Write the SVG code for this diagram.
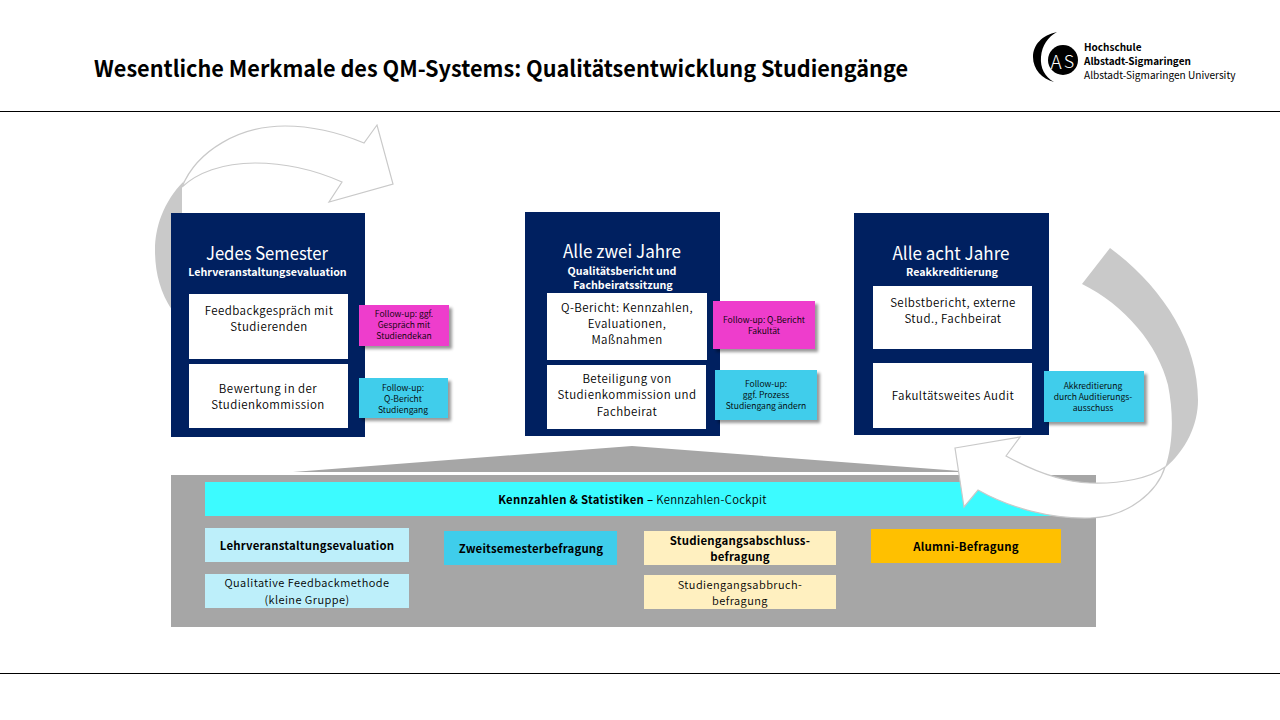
<svg xmlns="http://www.w3.org/2000/svg" width="1280" height="720" viewBox="0 0 1280 720">
<style>
text{font-family:"Noto Sans CJK SC","Source Sans Pro","Noto Sans",sans-serif;text-anchor:middle;fill:#000}
.title{font-size:22.5px;font-weight:700;text-anchor:start}
.h{font-size:18px;fill:#fff;font-weight:400}
.sub{font-size:10.700px;font-weight:700;fill:#fff}
.b{font-size:11.500px;letter-spacing:.45px;font-weight:350}
.s{font-size:11px;letter-spacing:.45px;font-weight:350}
.n{font-size:8.600px;font-weight:350}
.bb{font-size:11.400px;font-weight:700;letter-spacing:.2px}
.navy{fill:#002060}
.w{fill:#fff}
.note{filter:url(#sh)}
.arrow{fill:#fff;stroke:#c9c9c9;stroke-width:1.2}
.cres{fill:#c9c9c9}
.logo{font-size:10px;text-anchor:start}
line{stroke:#000;stroke-width:1}
</style>
<defs>
<filter id="sh" x="-15%" y="-15%" width="135%" height="140%"><feDropShadow dx="3" dy="3" stdDeviation="1.6" flood-color="#000" flood-opacity=".4"/></filter>
</defs>
<rect width="1280" height="720" fill="#fff"/>
<line x1="0" y1="111.500" x2="1280" y2="111.500"/>
<line x1="0" y1="673.500" x2="1280" y2="673.500"/>
<text class="title" x="94" y="76.500" textLength="814" lengthAdjust="spacingAndGlyphs">Wesentliche Merkmale des QM-Systems: Qualitätsentwicklung Studiengänge</text>
<g id="logo">
<path d="M1057 32C1042 35 1033 45 1033 57C1033 69 1042 79 1054 82C1045 77 1040 68 1041 57C1042 45 1048 37 1057 32Z" fill="#000"/>
<circle cx="1063" cy="60" r="15" fill="#000"/>
<text x="1056" y="69" style="font-size:19px;fill:#fff;font-weight:300">A</text>
<text x="1069" y="68" style="font-size:18px;fill:#fff;font-weight:300">S</text>
<text class="logo" x="1084" y="51" font-weight="700">Hochschule</text>
<text class="logo" x="1084" y="65" font-weight="700">Albstadt-Sigmaringen</text>
<text class="logo" x="1084" y="79" style="font-size:10.100px">Albstadt-Sigmaringen University</text>
</g>
<g id="connectors">
<path id="cycle-left-back" class="cres" d="M184 181C163 202 155 228 155 250C155 272 160 292 172 310L182 300L182 187Z"/>
<path id="trapezoid" d="M293 472L632 446L960 471V472Z" fill="#a6a6a6"/>
</g>
<g id="base">
<rect x="171" y="475" width="925" height="152" fill="#a6a6a6"/>
</g>
<g id="kennzahlen">
<rect x="205" y="482" width="857" height="34" fill="#3cfbff"/>
<text x="632.500" y="504" style="font-size:11.300px;letter-spacing:.3px"><tspan font-weight="700">Kennzahlen &amp; Statistiken – </tspan><tspan font-weight="350">Kennzahlen-Cockpit</tspan></text>
</g>
<g id="lve">
<rect x="205" y="528" width="204" height="34" fill="#bdeffa"/>
<text class="bb" x="307" y="550">Lehrveranstaltungsevaluation</text>
</g>
<g id="qualitative">
<rect x="205" y="574" width="204" height="34" fill="#bdeffa"/>
<text class="s" x="307" y="587">Qualitative Feedbackmethode</text>
<text class="s" x="307" y="604">(kleine Gruppe)</text>
</g>
<g id="zweitsemester">
<rect x="444" y="531" width="173" height="34" fill="#3fcdeb"/>
<text class="bb" x="531" y="553">Zweitsemesterbefragung</text>
</g>
<g id="abschluss">
<rect x="644" y="531" width="192" height="34" fill="#fff0c0"/>
<text class="bb" x="740" y="545">Studiengangsabschluss-</text>
<text class="bb" x="740" y="561">befragung</text>
</g>
<g id="abbruch">
<rect x="644" y="575" width="192" height="34" fill="#fff0c0"/>
<text class="s" x="740" y="589">Studiengangsabbruch-</text>
<text class="s" x="740" y="605">befragung</text>
</g>
<g id="alumni">
<rect x="871" y="529" width="190" height="34" fill="#ffc000"/>
<text class="bb" x="966" y="551">Alumni-Befragung</text>
</g>
<g id="col1">
<rect class="navy" x="171" y="213" width="194" height="224"/>
<text class="h" x="267" y="260" textLength="122" lengthAdjust="spacingAndGlyphs">Jedes Semester</text>
<text class="sub" x="267.500" y="276">Lehrveranstaltungsevaluation</text>
<rect class="w" x="189" y="294" width="159" height="65"/>
<text class="b" x="269" y="315">Feedbackgespräch mit</text>
<text class="b" x="269" y="331">Studierenden</text>
<rect class="w" x="189" y="364" width="159" height="64"/>
<text class="b" x="268" y="393">Bewertung in der</text>
<text class="b" x="268" y="409">Studienkommission</text>
</g>
<g id="note1a">
<rect class="note" x="359" y="305" width="90" height="41" fill="#ee3dcc"/>
<text class="n" x="404" y="317">Follow-up: ggf.</text>
<text class="n" x="404" y="328">Gespräch mit</text>
<text class="n" x="404" y="339">Studiendekan</text>
</g>
<g id="note1b">
<rect class="note" x="359" y="378" width="89" height="40" fill="#3fcdeb"/>
<text class="n" x="403" y="391">Follow-up:</text>
<text class="n" x="403" y="402">Q-Bericht</text>
<text class="n" x="403" y="413">Studiengang</text>
</g>
<g id="col2">
<rect class="navy" x="525" y="212" width="195" height="224"/>
<text class="h" x="622" y="258" textLength="118" lengthAdjust="spacingAndGlyphs">Alle zwei Jahre</text>
<text class="sub" x="622" y="275">Qualitätsbericht und</text>
<text class="sub" x="623" y="289">Fachbeiratssitzung</text>
<rect class="w" x="547" y="293" width="160" height="67"/>
<text class="b" x="627" y="312">Q-Bericht: Kennzahlen,</text>
<text class="b" x="627" y="328">Evaluationen,</text>
<text class="b" x="627" y="344">Maßnahmen</text>
<rect class="w" x="547" y="365" width="159" height="64"/>
<text class="b" x="627" y="383">Beteiligung von</text>
<text class="b" x="627" y="399">Studienkommission und</text>
<text class="b" x="627" y="416">Fachbeirat</text>
</g>
<g id="note2a">
<rect class="note" x="713" y="301" width="102" height="48" fill="#ee3dcc"/>
<text class="n" x="764" y="323">Follow-up: Q-Bericht</text>
<text class="n" x="764" y="334">Fakultät</text>
</g>
<g id="note2b">
<rect class="note" x="715" y="370" width="102" height="50" fill="#3fcdeb"/>
<text class="n" x="766" y="387">Follow-up:</text>
<text class="n" x="766" y="398">ggf. Prozess</text>
<text class="n" x="766" y="409">Studiengang ändern</text>
</g>
<g id="col3">
<rect class="navy" x="854" y="213" width="195" height="222"/>
<text class="h" x="951" y="260" textLength="117" lengthAdjust="spacingAndGlyphs">Alle acht Jahre</text>
<text class="sub" x="952" y="276">Reakkreditierung</text>
<rect class="w" x="873" y="286" width="159" height="63"/>
<text class="b" x="953" y="307">Selbstbericht, externe</text>
<text class="b" x="953" y="323">Stud., Fachbeirat</text>
<rect class="w" x="873" y="363" width="159" height="65"/>
<text class="b" x="953" y="400">Fakultätsweites Audit</text>
</g>
<g id="note3">
<rect class="note" x="1044" y="371" width="100" height="51" fill="#3fcdeb"/>
<text class="n" x="1093" y="389">Akkreditierung</text>
<text class="n" x="1093" y="400">durch Auditierungs-</text>
<text class="n" x="1093" y="411">ausschuss</text>
</g>
<g id="arrows">
<path id="cycle-left" class="arrow" d="M182 187C197 150 240 126 285 126C315 126 340 133 364 143L377 125L393 184L329 202L342 182C315 170 285 163 255 163C222 163 197 173 182 187Z"/>
<path id="cycle-right-back" class="cres" d="M1110 248C1160 285 1198 340 1198 400C1198 425 1186 450 1165 468C1173 445 1174 415 1168 385C1158 345 1125 305 1082 284Z"/>
<path id="cycle-right" class="arrow" d="M955 448L1020 437L1006 456C1035 472 1062 482 1090 483C1122 484 1150 478 1165 467C1158 490 1130 517 1090 518C1050 519 1010 508 978 490L964 507Z"/>
</g>
</svg>
